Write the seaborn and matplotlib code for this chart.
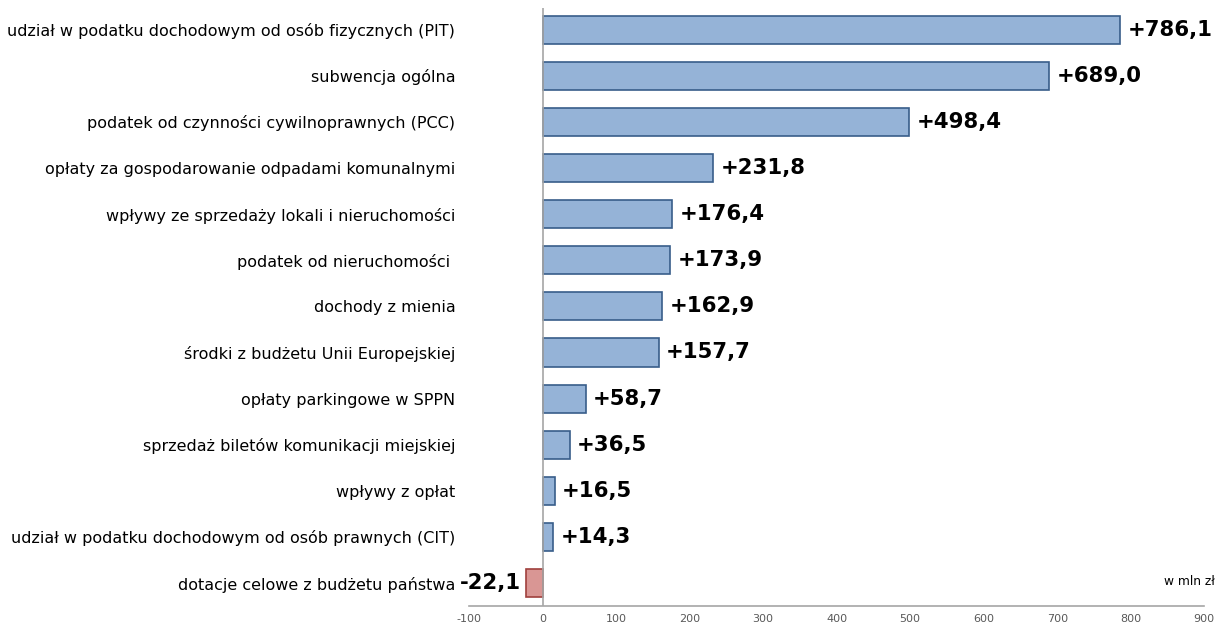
import pandas as pd
import seaborn as sns
import matplotlib.pyplot as plt

categories = [
    "udział w podatku dochodowym od osób fizycznych (PIT)",
    "subwencja ogólna",
    "podatek od czynności cywilnoprawnych (PCC)",
    "opłaty za gospodarowanie odpadami komunalnymi",
    "wpływy ze sprzedaży lokali i nieruchomości",
    "podatek od nieruchomości ",
    "dochody z mienia",
    "środki z budżetu Unii Europejskiej",
    "opłaty parkingowe w SPPN",
    "sprzedaż biletów komunikacji miejskiej",
    "wpływy z opłat",
    "udział w podatku dochodowym od osób prawnych (CIT)",
    "dotacje celowe z budżetu państwa",
]
values = [786.1, 689.0, 498.4, 231.8, 176.4, 173.9, 162.9, 157.7, 58.7, 36.5, 16.5, 14.3, -22.1]
labels = ["+786,1", "+689,0", "+498,4", "+231,8", "+176,4", "+173,9", "+162,9",
          "+157,7", "+58,7", "+36,5", "+16,5", "+14,3", "-22,1"]

df = pd.DataFrame({"kategoria": categories, "wartosc": values})
df["znak"] = ["plus" if v >= 0 else "minus" for v in values]

sns.set_style("white")
plt.rcParams["font.family"] = ["DejaVu Sans"]
plt.rcParams["axes.unicode_minus"] = False

fig = plt.figure(figsize=(12.25, 6.3), dpi=100)
ax = fig.add_axes([0.383, 0.038, 0.6, 0.95])

sns.barplot(data=df, y="kategoria", x="wartosc", hue="znak",
            palette={"plus": "#95B3D7", "minus": "#D99694"}, saturation=1,
            orient="h", width=0.61, dodge=False, legend=False, ax=ax)

# obramowanie słupków
for patch in ax.patches:
    fc = patch.get_facecolor()
    patch.set_edgecolor("#A0403D" if fc[0] > 0.8 else "#385D8A")
    patch.set_linewidth(1.2)

for i, (v, lab) in enumerate(zip(values, labels)):
    if v >= 0:
        ax.text(v + 10, i, lab, ha="left", va="center", fontsize=15.3,
                fontweight="bold", color="black")
    else:
        ax.text(v - 8, i, lab, ha="right", va="center", fontsize=15.3,
                fontweight="bold", color="black")

ax.set_xlim(-100, 900)
ax.set_ylim(12.5, -0.48)
ax.set_xticks(range(-100, 901, 100))
ax.axvline(0, color="#A6A6A6", linewidth=1.2)

for s in ["top", "right", "left"]:
    ax.spines[s].set_visible(False)
ax.spines["bottom"].set_color("#A6A6A6")
ax.spines["bottom"].set_linewidth(1.2)

ax.tick_params(axis="x", direction="inout", length=8, color="#808080",
               labelsize=8, labelcolor="#595959", pad=2)
ax.tick_params(axis="y", length=0, labelsize=11.5, labelcolor="black", pad=10)
ax.set_xlabel("")
ax.set_ylabel("")

ax.text(1.015, 0.03, "w mln zł", transform=ax.transAxes, ha="right", va="bottom",
        fontsize=8.8, color="black")

fig.savefig("out.png", dpi=100)
